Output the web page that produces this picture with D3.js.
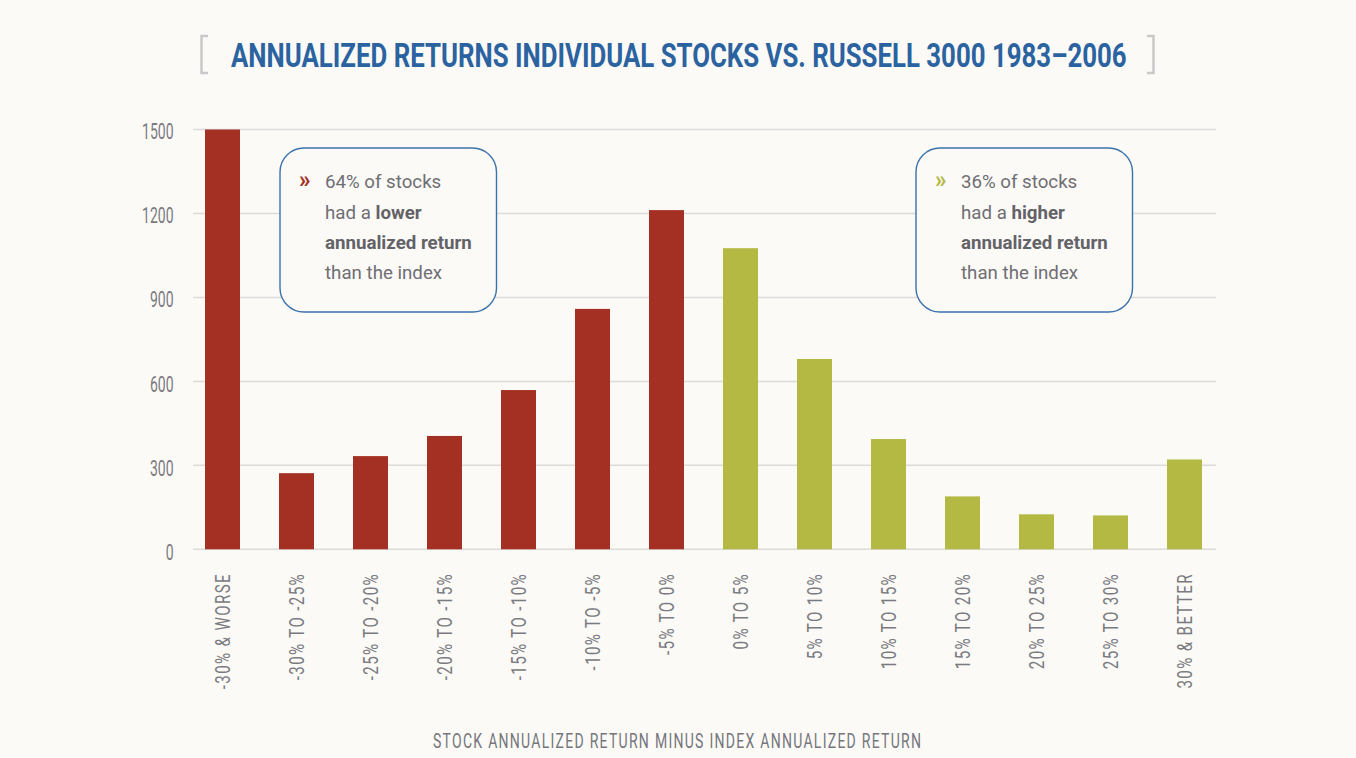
<!DOCTYPE html>
<html><head><meta charset="utf-8">
<script src="https://cdn.jsdelivr.net/npm/d3@7"></script>
<style>html,body{margin:0;padding:0;background:#fbfaf7;} svg{display:block;}</style>
</head><body><svg id="chart" width="1356" height="758"></svg>
<script>
// ---- data ----
const chartTitle = "ANNUALIZED RETURNS INDIVIDUAL STOCKS VS. RUSSELL 3000 1983–2006";
const xAxisTitle = "STOCK ANNUALIZED RETURN MINUS INDEX ANNUALIZED RETURN";
const categories = ["-30% & WORSE","-30% TO -25%","-25% TO -20%","-20% TO -15%","-15% TO -10%","-10% TO -5%","-5% TO 0%","0% TO 5%","5% TO 10%","10% TO 15%","15% TO 20%","20% TO 25%","25% TO 30%","30% & BETTER"];
const stockCounts = [1500,272,333,405,569,859,1212,1076,680,394,189,125,121,321];
const groupOf = ["lower","lower","lower","lower","lower","lower","lower","higher","higher","higher","higher","higher","higher","higher"];
const yTicks = [0,300,600,900,1200,1500];
const noteLower = [[["64% of stocks",false]],[["had a ",false],["lower",true]],[["annualized return",true]],[["than the index",false]]];
const noteHigher = [[["36% of stocks",false]],[["had a ",false],["higher",true]],[["annualized return",true]],[["than the index",false]]];

// ---- styles ----
const colors = {lower:"#a33022", higher:"#b4b944"};
const FONT = "Roboto, 'Liberation Sans', sans-serif";
const svg = d3.select("#chart");
svg.append("rect").attr("width",1356).attr("height",758).attr("fill","#fbfaf7");

const x = d3.scaleBand().domain(categories).range([185.5,1221.5]).paddingInner(0.527).paddingOuter(0.2635);
const y = d3.scaleLinear().domain([0,1500]).range([549.3,129.5]);

// gridlines
svg.append("g").selectAll("line").data(yTicks).join("line")
  .attr("x1",193).attr("x2",1216)
  .attr("y1",d=>y(d)).attr("y2",d=>y(d))
  .attr("stroke","#dcdbdc").attr("stroke-width",1.5);

// y axis labels
const yAxis = svg.append("g").attr("transform","translate(173.5,0)")
  .call(d3.axisLeft(y).tickValues(yTicks).tickSize(0).tickPadding(0).tickFormat(d3.format("d")));
yAxis.select(".domain").remove();
yAxis.selectAll("text")
  .attr("font-family",FONT).attr("font-size",21.5).attr("fill","#7a7a80")
  .attr("x",0).attr("dy","0.36em")
  .attr("transform",(d,i)=>`translate(0,${2.5 - i*0.3}) scale(0.65,1)`);

// bars
svg.append("g").selectAll("rect").data(categories).join("rect")
  .attr("x",d=>x(d)).attr("width",x.bandwidth())
  .attr("y",(d,i)=>y(stockCounts[i]))
  .attr("height",(d,i)=>y(0)-y(stockCounts[i]))
  .attr("fill",(d,i)=>colors[groupOf[i]]);

// x labels (rotated)
svg.append("g").selectAll("text").data(categories).join("text")
  .attr("transform",d=>`translate(${x(d)+x.bandwidth()/2},573) rotate(-90) scale(0.72,1)`)
  .attr("text-anchor","end").attr("dy","0.36em")
  .attr("font-family",FONT).attr("font-size",21).attr("letter-spacing","1.9px")
  .attr("fill","#7a7a80").text(d=>d);

// x axis title
svg.append("text")
  .attr("transform","translate(677,748) scale(0.72,1)")
  .attr("text-anchor","middle")
  .attr("font-family",FONT).attr("font-size",19.5).attr("fill","#76767c")
  .attr("textLength",488/0.72).attr("lengthAdjust","spacing")
  .text(xAxisTitle);

// title (condensed by horizontal scale to span 231..1127)
const tt = svg.append("text")
  .attr("x",0).attr("y",0)
  .attr("font-family",FONT).attr("font-weight","bold").attr("font-size",34)
  .attr("fill","#2b63a1")
  .text(chartTitle);
const tw = tt.node().getComputedTextLength();
tt.attr("transform",`translate(231,67) scale(${896/tw},1)`);

// brackets
const br = svg.append("g").attr("fill","none").attr("stroke","#c9c9c9").attr("stroke-width",2.5);
br.append("path").attr("d","M208,36 H201.5 V73 H208");
br.append("path").attr("d","M1147,36 H1153.5 V73 H1147");

// annotation boxes
function note(x0, lines, markColor){
  const g = svg.append("g");
  g.append("rect").attr("x",x0).attr("y",148).attr("width",216.5).attr("height",164)
    .attr("rx",24).attr("ry",24).attr("fill","#fbfaf7").attr("stroke","#3a72ab").attr("stroke-width",1.4);
  g.append("text").attr("x",x0+19).attr("y",188).attr("font-family",FONT).attr("font-weight","bold")
    .attr("font-size",23).attr("fill",markColor).text("»");
  lines.forEach((segs,i)=>{
    const t = g.append("text").attr("x",x0+45).attr("y",188.3+i*30.3)
      .attr("font-family",FONT).attr("font-size",18.7).attr("fill","#6f6e73");
    segs.forEach(([s,b])=>{
      t.append("tspan").attr("font-weight",b?"bold":"normal").attr("fill",b?"#636267":"#6f6e73").text(s);
    });
  });
}
note(280, noteLower, colors.lower);
note(916, noteHigher, colors.higher);
</script></body></html>
